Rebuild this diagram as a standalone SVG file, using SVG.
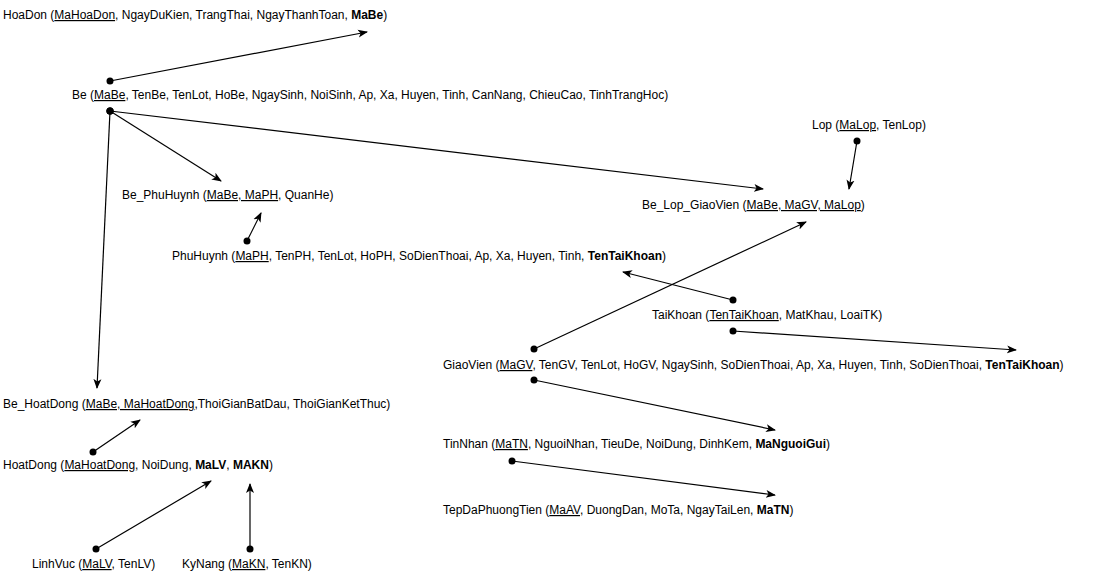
<svg xmlns="http://www.w3.org/2000/svg" width="1101" height="580" viewBox="0 0 1101 580">
<style>
text{font-family:"Liberation Sans",Arial,sans-serif;font-size:12px;fill:#000}
.u{text-decoration:underline}
.b{font-weight:bold}
.c line{stroke:#000;stroke-width:1.2;marker-start:url(#dot);marker-end:url(#arr)}
</style>
<defs>
<marker id="arr" viewBox="0 0 10 10" refX="9" refY="5" markerWidth="10" markerHeight="10" markerUnits="userSpaceOnUse" orient="auto">
<path d="M0,1 L10,5 L0,9 L2.5,5 z" fill="#000"/>
</marker>
<marker id="dot" viewBox="0 0 8 8" refX="4" refY="4" markerWidth="8" markerHeight="8" markerUnits="userSpaceOnUse">
<circle cx="4" cy="4" r="3.5" fill="#000"/>
</marker>
</defs>
<rect width="1101" height="580" fill="#fff"/>
<g id="HoaDon"><text x="3" y="19">HoaDon (<tspan class="u">MaHoaDon</tspan>, NgayDuKien, TrangThai, NgayThanhToan, <tspan class="b">MaBe</tspan>)</text></g>
<g id="Be"><text x="72" y="99">Be (<tspan class="u">MaBe</tspan>, TenBe, TenLot, HoBe, NgaySinh, NoiSinh, Ap, Xa, Huyen, Tinh, CanNang, ChieuCao, TinhTrangHoc)</text></g>
<g id="Be_PhuHuynh"><text x="122" y="199">Be_PhuHuynh (<tspan class="u">MaBe, MaPH</tspan>, QuanHe)</text></g>
<g id="PhuHuynh"><text x="172" y="260">PhuHuynh (<tspan class="u">MaPH</tspan>, TenPH, TenLot, HoPH, SoDienThoai, Ap, Xa, Huyen, Tinh, <tspan class="b">TenTaiKhoan</tspan>)</text></g>
<g id="Lop"><text x="812" y="129">Lop (<tspan class="u">MaLop</tspan>, TenLop)</text></g>
<g id="Be_Lop_GiaoVien"><text x="642" y="209">Be_Lop_GiaoVien (<tspan class="u">MaBe, MaGV, MaLop</tspan>)</text></g>
<g id="TaiKhoan"><text x="652" y="319">TaiKhoan (<tspan class="u">TenTaiKhoan</tspan>, MatKhau, LoaiTK)</text></g>
<g id="GiaoVien"><text x="443" y="369">GiaoVien (<tspan class="u">MaGV</tspan>, TenGV, TenLot, HoGV, NgaySinh, SoDienThoai, Ap, Xa, Huyen, Tinh, SoDienThoai, <tspan class="b">TenTaiKhoan</tspan>)</text></g>
<g id="Be_HoatDong"><text x="3" y="408">Be_HoatDong (<tspan class="u">MaBe, MaHoatDong</tspan>,ThoiGianBatDau, ThoiGianKetThuc)</text></g>
<g id="HoatDong"><text x="3" y="469">HoatDong (<tspan class="u">MaHoatDong</tspan>, NoiDung, <tspan class="b">MaLV</tspan>, <tspan class="b">MAKN</tspan>)</text></g>
<g id="TinNhan"><text x="443" y="448">TinNhan (<tspan class="u">MaTN</tspan>, NguoiNhan, TieuDe, NoiDung, DinhKem, <tspan class="b">MaNguoiGui</tspan>)</text></g>
<g id="TepDaPhuongTien"><text x="443" y="514">TepDaPhuongTien (<tspan class="u">MaAV</tspan>, DuongDan, MoTa, NgayTaiLen, <tspan class="b">MaTN</tspan>)</text></g>
<g id="LinhVuc"><text x="32" y="568">LinhVuc (<tspan class="u">MaLV</tspan>, TenLV)</text></g>
<g id="KyNang"><text x="182" y="568">KyNang (<tspan class="u">MaKN</tspan>, TenKN)</text></g>
<g id="connectors" class="c">
<line x1="110" y1="81" x2="367" y2="32"/>
<line x1="110" y1="111" x2="221" y2="181"/>
<line x1="110" y1="111" x2="763" y2="189"/>
<line x1="110" y1="111" x2="97" y2="388"/>
<line x1="247" y1="241" x2="261" y2="213"/>
<line x1="857" y1="141" x2="849" y2="189"/>
<line x1="733" y1="300" x2="623" y2="272"/>
<line x1="534" y1="349" x2="806" y2="222"/>
<line x1="733" y1="331" x2="1016" y2="350"/>
<line x1="534" y1="380" x2="775" y2="430"/>
<line x1="93" y1="452" x2="140" y2="420"/>
<line x1="512" y1="461" x2="775" y2="495"/>
<line x1="96" y1="549" x2="211" y2="481"/>
<line x1="250" y1="549" x2="250" y2="484"/>
</g>
</svg>
